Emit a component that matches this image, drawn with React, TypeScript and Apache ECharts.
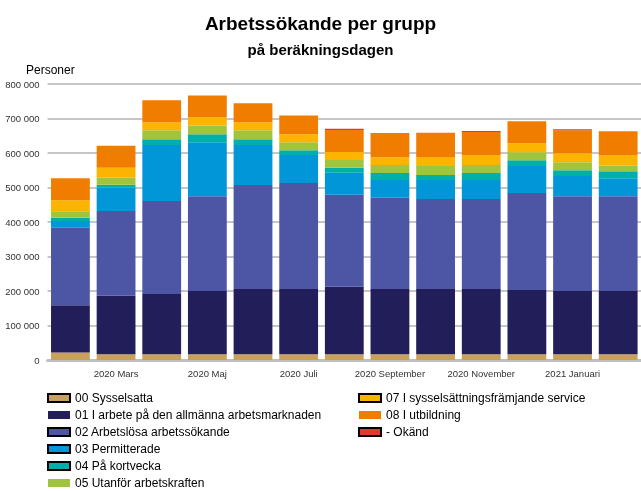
import React, { useEffect, useRef } from "react";
import * as echarts from "echarts";

const categories = [
  "2020 Februari", "2020 Mars", "2020 April", "2020 Maj", "2020 Juni", "2020 Juli",
  "2020 Augusti", "2020 September", "2020 Oktober", "2020 November", "2020 December",
  "2021 Januari", "2021 Februari",
];

const s00 = [22000, 17000, 17000, 17000, 17000, 17000, 17000, 17000, 17000, 17000, 17000, 17000, 17000];
const s01 = [137000, 169000, 174000, 183000, 189000, 189000, 195000, 189000, 189000, 189000, 186000, 183000, 183000];
const s02 = [224000, 246000, 270000, 275000, 301000, 307000, 267000, 264000, 261000, 261000, 281000, 275000, 275000];
const s03 = [20000, 68000, 162000, 156000, 116000, 81000, 64000, 52000, 55000, 55000, 78000, 58000, 52000];
const s04 = [9000, 8000, 17000, 23000, 17000, 14000, 14000, 20000, 14500, 20000, 17000, 17000, 20000];
const s05 = [19000, 21000, 26000, 26000, 26000, 23000, 23000, 23000, 26000, 23000, 23000, 23000, 17000];
const s07 = [32000, 28000, 23000, 23000, 23000, 23000, 23000, 23000, 26000, 29000, 26000, 26000, 29000];
const s08 = [64000, 64000, 64000, 64000, 55000, 55000, 64000, 70000, 70000, 67000, 64000, 67000, 70000];
const sOk = [0, 0, 0, 0, 0, 0, 3000, 0, 0, 3000, 0, 3000, 0];

const seriesNames = [
  "00 Sysselsatta",
  "01 I arbete på den allmänna arbetsmarknaden",
  "02 Arbetslösa arbetssökande",
  "03 Permitterade",
  "04 På kortvecka",
  "05 Utanför arbetskraften",
  "07 I sysselsättningsfrämjande service",
  "08 I utbildning",
  "- Okänd",
];
const seriesData = [s00, s01, s02, s03, s04, s05, s07, s08, sOk];
const colors = ["#C9A15A", "#211E5A", "#4C56A5", "#0096D8", "#00AFA9", "#A0C43E", "#FDB400", "#F07D00", "#E0392E"];
const legendBorder = [true, false, true, true, true, false, true, false, true];

const FONT = "'Liberation Sans', Arial, sans-serif";

function fmt(v: number) {
  if (v === 0) return "0";
  const s = String(v);
  return s.replace(/\B(?=(\d{3})+(?!\d))/g, " ");
}

export default function App() {
  const ref = useRef<HTMLDivElement>(null);
  useEffect(() => {
    if (!ref.current) return;
    const chart = echarts.init(ref.current, undefined, { renderer: "svg" });
    const legendItem = (i: number) => ({
      name: seriesNames[i],
      itemStyle: legendBorder[i]
        ? { borderColor: "#000", borderWidth: 2 }
        : { borderWidth: 0 },
    });
    const legendBase = {
      orient: "vertical",
      top: 387,
      height: 120,
      padding: 5,
      itemWidth: 22,
      itemHeight: 8,
      itemGap: 5,
      icon: "rect",
      textStyle: { fontFamily: FONT, fontSize: 12, color: "#000", lineHeight: 12 },
    };
    chart.setOption({
      animation: false,
      textStyle: { fontFamily: FONT },
      title: [
        {
          text: "Arbetssökande per grupp",
          left: "center",
          top: 9,
          textStyle: { fontFamily: FONT, fontSize: 19, fontWeight: "bold", color: "#000" },
        },
        {
          text: "på beräkningsdagen",
          left: "center",
          top: 37,
          textStyle: { fontFamily: FONT, fontSize: 15, fontWeight: "bold", color: "#000" },
        },
        {
          text: "Personer",
          left: 21,
          top: 59,
          textStyle: { fontFamily: FONT, fontSize: 12, fontWeight: "normal", color: "#000" },
        },
      ],
      legend: [
        { ...legendBase, left: 42, data: [0, 1, 2, 3, 4, 5].map(legendItem) },
        { ...legendBase, left: 353, data: [6, 7, 8].map(legendItem) },
      ],
      grid: { left: 47.6, right: -5, top: 84, bottom: 131, containLabel: false },
      xAxis: {
        type: "category",
        data: categories,
        offset: 2,
        axisLine: { show: true, lineStyle: { color: "#BFBFBF", width: 3 } },
        axisTick: { show: false },
        axisLabel: {
          interval: (i: number) => i % 2 === 1,
          fontFamily: FONT,
          fontSize: 9.5,
          color: "#333",
          margin: 6,
        },
      },
      yAxis: {
        type: "value",
        min: 0,
        max: 800000,
        interval: 100000,
        axisLine: { show: false },
        axisTick: { show: false },
        splitLine: { lineStyle: { color: "#C6C6C6", width: 2 } },
        axisLabel: {
          formatter: (v: number) => fmt(v),
          fontFamily: FONT,
          fontSize: 9.5,
          color: "#333",
          margin: 8,
        },
      },
      series: seriesNames.map((name, i) => ({
        name,
        type: "bar",
        stack: "total",
        barCategoryGap: "15%",
        data: seriesData[i],
        itemStyle: { color: colors[i] },
        emphasis: { disabled: true },
      })),
    });
    return () => chart.dispose();
  }, []);
  return (
    <div
      ref={ref}
      style={{ position: "fixed", left: 0, top: 0, width: 641, height: 491 }}
    />
  );
}
